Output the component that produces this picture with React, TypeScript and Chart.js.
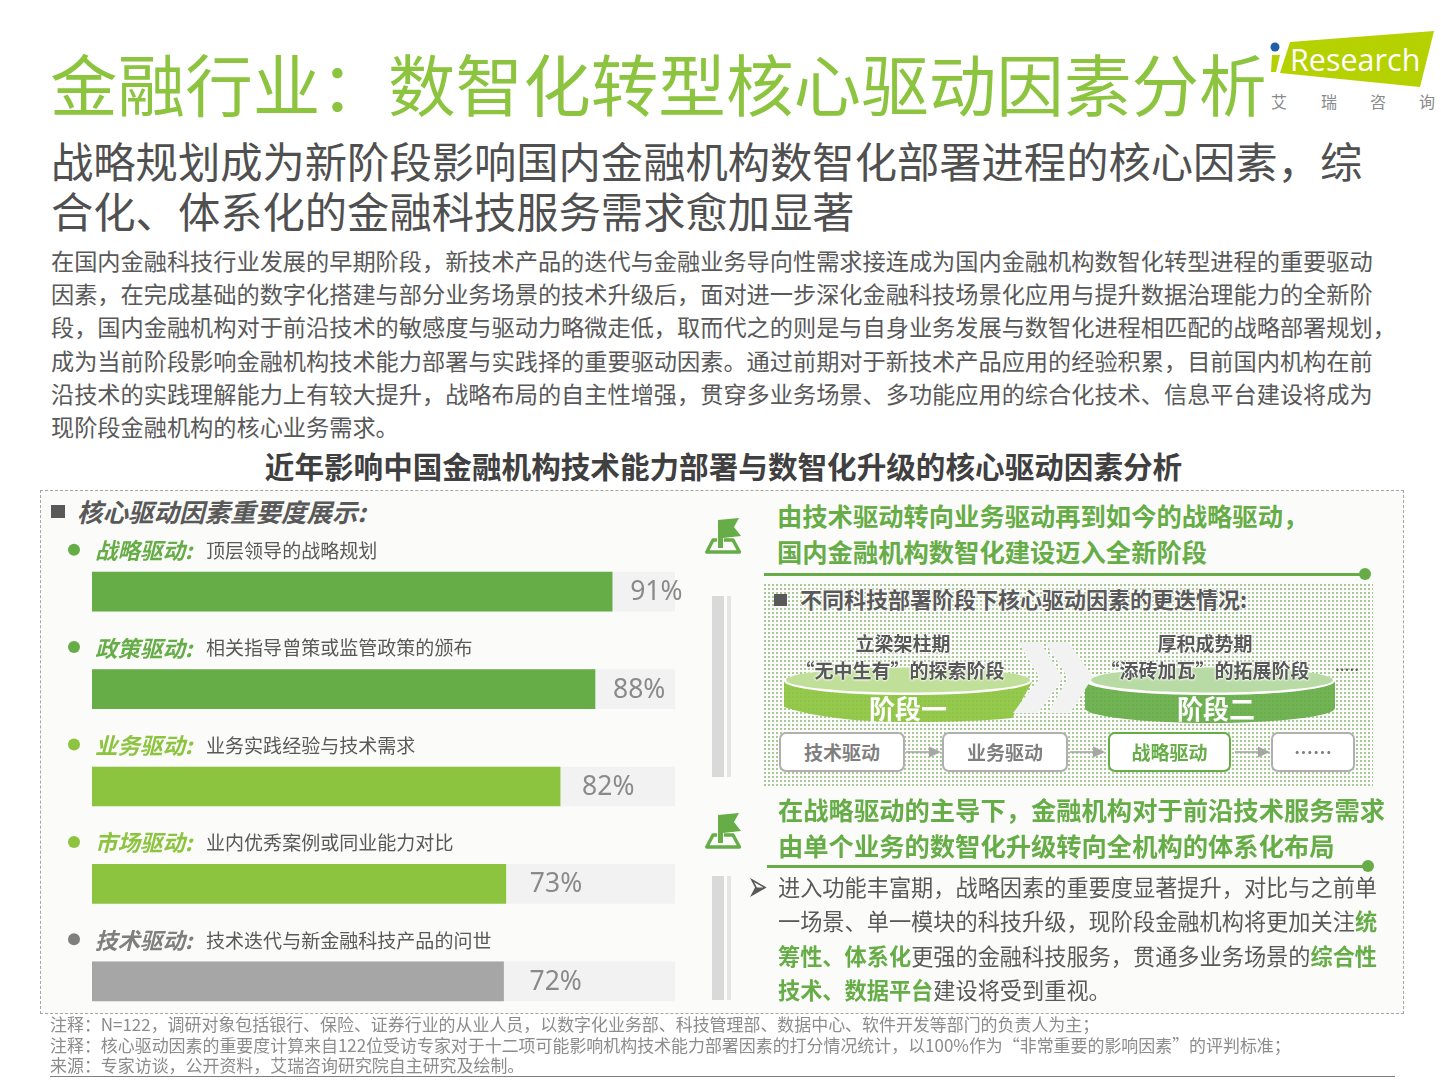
import { useEffect, useRef } from "react";
import type { ReactNode, CSSProperties } from "react";
import { Chart, registerables } from "chart.js";

Chart.register(...registerables);

const FONT = '"Noto Sans CJK SC", "Noto Sans", sans-serif';

// chart data
const categories = ["战略驱动", "政策驱动", "业务驱动", "市场驱动", "技术驱动"];
const descriptions = [
  "顶层领导的战略规划",
  "相关指导曾策或监管政策的颁布",
  "业务实践经验与技术需求",
  "业内优秀案例或同业能力对比",
  "技术迭代与新金融科技产品的问世",
];
const valueLabels = ["91%", "88%", "82%", "73%", "72%"];
// bar lengths as drawn in the picture (the 73% bar is a bit short of its label)
const barLengths = [91, 88, 81.9, 72.4, 72];
const trackValues = [102, 102, 102, 102, 102];
const barColors = ["#66ad47", "#66ad47", "#8cc43f", "#8cc43f", "#a6a6a6"];
const labelColors = ["#66ad47", "#66ad47", "#8cc43f", "#8cc43f", "#7f7f7f"];

const bodyLines = [
  "在国内金融科技行业发展的早期阶段，新技术产品的迭代与金融业务导向性需求接连成为国内金融机构数智化转型进程的重要驱动",
  "因素，在完成基础的数字化搭建与部分业务场景的技术升级后，面对进一步深化金融科技场景化应用与提升数据治理能力的全新阶",
  "段，国内金融机构对于前沿技术的敏感度与驱动力略微走低，取而代之的则是与自身业务发展与数智化进程相匹配的战略部署规划，",
  "成为当前阶段影响金融机构技术能力部署与实践择的重要驱动因素。通过前期对于新技术产品应用的经验积累，目前国内机构在前",
  "沿技术的实践理解能力上有较大提升，战略布局的自主性增强，贯穿多业务场景、多功能应用的综合化技术、信息平台建设将成为",
  "现阶段金融机构的核心业务需求。",
];
const bodyY = [260, 293, 326, 360, 393, 426];

const notes = [
  "注释：N=122，调研对象包括银行、保险、证券行业的从业人员，以数字化业务部、科技管理部、数据中心、软件开发等部门的负责人为主；",
  "注释：核心驱动因素的重要度计算来自122位受访专家对于十二项可能影响机构技术能力部署因素的打分情况统计，以100%作为“非常重要的影响因素”的评判标准；",
  "来源：专家访谈，公开资料，艾瑞咨询研究院自主研究及绘制。",
];
const notesY = [1024, 1045, 1065];

const labelGaps = [18, 18, 22, 24, 26];

// draws the text around each bar through the chart's own scales
const barLabels = {
  id: "barLabels",
  afterDatasetsDraw(chart: Chart) {
    const { ctx, scales } = chart;
    ctx.save();
    ctx.textBaseline = "middle";
    categories.forEach((name, i) => {
      const cy = scales.y.getPixelForValue(i);
      const left = scales.x.left;
      const ly = cy - 41;
      ctx.fillStyle = labelColors[i];
      ctx.beginPath();
      ctx.arc(left - 18, ly - 1, 6, 0, Math.PI * 2);
      ctx.fill();
      ctx.font = `italic bold 22.5px ${FONT}`;
      ctx.textAlign = "left";
      ctx.fillText(name + ":", left + 3, ly);
      ctx.fillStyle = "#595959";
      ctx.font = `19.05px ${FONT}`;
      ctx.fillText(descriptions[i], left + 114, ly);
      ctx.fillStyle = "#8a8a8a";
      ctx.font = '26.5px "Noto Sans", sans-serif';
      ctx.fillText(valueLabels[i], scales.x.getPixelForValue(barLengths[i]) + labelGaps[i], cy + 1);
    });
    ctx.restore();
  },
};

function ImportanceChart() {
  const canvasRef = useRef<HTMLCanvasElement>(null);

  useEffect(() => {
    if (!canvasRef.current) return;
    const chart = new Chart(canvasRef.current, {
      type: "bar",
      data: {
        labels: categories,
        datasets: [
          { data: barLengths, backgroundColor: barColors, order: 1, grouped: false, barThickness: 39 },
          { data: trackValues, backgroundColor: "#f2f2f2", order: 2, grouped: false, barThickness: 39 },
        ],
      },
      options: {
        indexAxis: "y",
        responsive: false,
        animation: false,
        events: [],
        layout: { padding: { left: 52, right: 25, top: 48, bottom: 5 } },
        plugins: { legend: { display: false }, tooltip: { enabled: false } },
        scales: {
          x: { display: false, min: 0, max: 102 },
          y: { display: false },
        },
      },
      plugins: [barLabels],
    });
    return () => chart.destroy();
  }, []);

  return (
    <div style={{ position: "absolute", left: 40, top: 495, width: 660, height: 540 }}>
      <canvas ref={canvasRef} width={660} height={540} />
    </div>
  );
}

interface TextProps {
  x: number;
  y: number;
  size: number;
  color?: string;
  weight?: number;
  italic?: boolean;
  center?: boolean;
  glow?: boolean;
  font?: string;
  children: ReactNode;
}

function T({ x, y, size, color = "#595959", weight = 400, italic, center, glow, font, children }: TextProps) {
  const style: CSSProperties = {
    position: "absolute",
    left: x,
    top: y - size,
    lineHeight: `${size * 2}px`,
    fontSize: size,
    fontWeight: weight,
    fontStyle: italic ? "italic" : "normal",
    fontFamily: font,
    color,
    whiteSpace: "nowrap",
    transform: center ? "translateX(-50%)" : undefined,
    textShadow: glow ? "0 0 3px #fff, 0 0 3px #fff, 0 0 2px #fff" : undefined,
  };
  return <span style={style}>{children}</span>;
}

const Box = ({ style }: { style: CSSProperties }) => <div style={{ position: "absolute", ...style }} />;

function Flag({ x, y }: { x: number; y: number }) {
  return (
    <svg style={{ position: "absolute", left: x, top: y }} width="38" height="38" viewBox="0 0 38 38">
      <path d="M13 3 L34 1 L29 10 L36 19 L18 21 L18 31 L13 31 Z" fill="#66ad47" />
      <path
        d="M12 23 L8 23 L1.8 35 L34.5 35 L28 23 L19 23"
        fill="none"
        stroke="#66ad47"
        strokeWidth="3.4"
        strokeLinejoin="round"
      />
    </svg>
  );
}

function Green({ children }: { children: ReactNode }) {
  return <span style={{ color: "#66ad47", fontWeight: 700 }}>{children}</span>;
}

function Stages() {
  const arrow = (x: number) => (
    <g key={x}>
      <line x1={x} x2={x + 24} y1={752} y2={752} stroke="#a6a6a6" strokeWidth="1.6" />
      <path d={`M${x + 23} 746.5 L${x + 35} 752 L${x + 23} 757.5 Z`} fill="#a6a6a6" />
    </g>
  );
  return (
    <svg style={{ position: "absolute", left: 0, top: 0 }} width="1441" height="1080">
      <path
        d="M784 681 L784 707 Q830 722 908 722 Q975 722 1012 718 L1032 682 Z"
        fill="#8cc43f"
        fillOpacity="0.92"
      />
      <ellipse cx="908" cy="681" rx="124" ry="14" fill="#fff" />
      <ellipse cx="908" cy="680" rx="122" ry="12.5" fill="#b9dc8e" fillOpacity="0.9" />
      <path d="M1085 681 L1085 708 A125 15 0 0 0 1335 708 L1335 681 Z" fill="#66ad47" fillOpacity="0.92" />
      <ellipse cx="1210" cy="681" rx="125" ry="14" fill="#fff" />
      <ellipse cx="1212" cy="680" rx="121" ry="12.5" fill="#b0d69a" fillOpacity="0.9" />
      <path d="M1018 642 L1040 642 L1063 678 L1038 713 L1013 713 L1040 678 Z" fill="#f2f2f2" />
      <path d="M1045 642 L1068 642 L1093 677 L1070 713 L1048 713 L1068 678 Z" fill="#f2f2f2" />
      {[906, 1070, 1235].map(arrow)}
    </svg>
  );
}

function StageBox({ x, w, label, active }: { x: number; w: number; label: string; active?: boolean }) {
  return (
    <div
      style={{
        position: "absolute",
        left: x,
        top: 732,
        width: w,
        height: 36,
        background: "#fff",
        border: `2px solid ${active ? "#66ad47" : "#b0b0b0"}`,
        borderRadius: 7,
        textAlign: "center",
        lineHeight: "35px",
        fontSize: 19,
        fontWeight: 700,
        color: active ? "#66ad47" : "#7f7f7f",
      }}
    >
      {label}
    </div>
  );
}

export default function App() {
  return (
    <div
      style={{
        position: "absolute",
        left: 0,
        top: 0,
        width: 1441,
        height: 1080,
        overflow: "hidden",
        background: "#fff",
        fontFamily: FONT,
      }}
    >
      <T x={50} y={82} size={67.6} color="#8cc43f">
        金融行业：数智化转型核心驱动因素分析
      </T>

      {/* logo */}
      <svg style={{ position: "absolute", left: 0, top: 0 }} width="1441" height="120">
        <path d="M1290 42 L1434 31 L1420 87 L1280 73 Z" fill="#b5d100" />
        <circle cx="1275" cy="47" r="4.5" fill="#1f5fa8" />
        <path d="M1272 55 L1280 55 L1276 72 L1271 72 Z" fill="#b5d100" />
        <text x="1290" y="71" fontSize="30.5" fill="#fff" fontFamily='"Open Sans", sans-serif'>
          Research
        </text>
      </svg>
      {["艾", "瑞", "咨", "询"].map((c, i) => (
        <T key={c} x={[1279, 1329, 1378, 1427][i]} y={101} size={16} color="#8a8a8a" center>
          {c}
        </T>
      ))}

      <T x={51} y={160} size={42.3} color="#505050">
        战略规划成为新阶段影响国内金融机构数智化部署进程的核心因素，综
      </T>
      <T x={51} y={210} size={42.3} color="#505050">
        合化、体系化的金融科技服务需求愈加显著
      </T>

      {bodyLines.map((line, i) => (
        <T key={i} x={51} y={bodyY[i]} size={23.2}>
          {line}
        </T>
      ))}

      <T x={723.5} y={466} size={29.6} color="#404040" weight={700} center>
        近年影响中国金融机构技术能力部署与数智化升级的核心驱动因素分析
      </T>

      {/* panel */}
      <Box
        style={{
          left: 40,
          top: 490,
          width: 1362,
          height: 522,
          background: "#fbfbf9",
          border: "1px dashed #a6a6a6",
        }}
      />
      <Box style={{ left: 51, top: 505, width: 14, height: 13, background: "#595959" }} />
      <T x={77} y={510} size={25.5} weight={700} italic>
        核心驱动因素重要度展示:
      </T>

      <ImportanceChart />

      {/* right side */}
      <Box style={{ left: 712, top: 596, width: 12, height: 181, background: "#d9d9d9" }} />
      <Box style={{ left: 727, top: 596, width: 4, height: 181, background: "#e4e4e4" }} />
      <Box style={{ left: 712, top: 876, width: 12, height: 124, background: "#d9d9d9" }} />
      <Box style={{ left: 727, top: 876, width: 4, height: 124, background: "#e4e4e4" }} />

      <Flag x={705} y={517} />
      <Flag x={705} y={812} />

      <T x={777} y={515} size={25.3} color="#66ad47" weight={700}>
        由技术驱动转向业务驱动再到如今的战略驱动，
      </T>
      <T x={777} y={551} size={25.3} color="#66ad47" weight={700}>
        国内金融机构数智化建设迈入全新阶段
      </T>
      <Box style={{ left: 764, top: 573, width: 600, height: 3, background: "#66ad47" }} />
      <Box style={{ left: 1359, top: 568, width: 12, height: 12, borderRadius: 6, background: "#66ad47" }} />

      <Box
        style={{
          left: 763,
          top: 583,
          width: 610,
          height: 204,
          backgroundImage: "radial-gradient(#a9c799 0.9px, transparent 1.2px)",
          backgroundSize: "4px 4px",
        }}
      />
      <Box style={{ left: 774, top: 594, width: 13, height: 12, background: "#595959" }} />
      <T x={800} y={598} size={22} weight={700} glow>
        不同科技部署阶段下核心驱动因素的更迭情况:
      </T>

      <Stages />

      <T x={903} y={643} size={19} weight={700} glow center>
        立梁架柱期
      </T>
      <T x={900} y={670} size={19} weight={700} glow center>
        “无中生有”的探索阶段
      </T>
      <T x={1205} y={643} size={19} weight={700} glow center>
        厚积成势期
      </T>
      <T x={1205} y={670} size={19} weight={700} glow center>
        “添砖加瓦”的拓展阶段
      </T>
      <T x={1347} y={664} size={18} center font='"Noto Sans", sans-serif'>
        .....
      </T>
      <T x={908} y={708} size={26} color="#fff" weight={700} center>
        阶段一
      </T>
      <T x={1216} y={708} size={26} color="#fff" weight={700} center>
        阶段二
      </T>

      <StageBox x={779} w={122} label="技术驱动" />
      <StageBox x={942} w={122} label="业务驱动" />
      <StageBox x={1108} w={119} label="战略驱动" active />
      <StageBox x={1271} w={80} label="……" />

      <T x={778} y={809} size={25.3} color="#66ad47" weight={700}>
        在战略驱动的主导下，金融机构对于前沿技术服务需求
      </T>
      <T x={778} y={845} size={25.3} color="#66ad47" weight={700}>
        由单个业务的数智化升级转向全机构的体系化布局
      </T>
      <Box style={{ left: 767, top: 865, width: 600, height: 3, background: "#66ad47" }} />
      <Box style={{ left: 1362, top: 860, width: 12, height: 12, borderRadius: 6, background: "#66ad47" }} />

      <svg style={{ position: "absolute", left: 750, top: 878 }} width="18" height="20">
        <path d="M2 2 L15 9.5 L2 17 L6 9.5 Z" fill="#fff" stroke="#595959" strokeWidth="1.6" />
        <path d="M2 17 L15 9.5 L6 9.5 Z" fill="#595959" />
      </svg>
      <T x={778} y={886} size={22.2}>
        进入功能丰富期，战略因素的重要度显著提升，对比与之前单
      </T>
      <T x={778} y={920} size={22.2}>
        一场景、单一模块的科技升级，现阶段金融机构将更加关注<Green>统</Green>
      </T>
      <T x={778} y={955} size={22.2}>
        <Green>筹性、体系化</Green>更强的金融科技服务，贯通多业务场景的<Green>综合性</Green>
      </T>
      <T x={778} y={989} size={22.2}>
        <Green>技术、数据平台</Green>建设将受到重视。
      </T>

      {notes.map((line, i) => (
        <T key={i} x={50} y={notesY[i]} size={16.95} color="#8c8c8c">
          {line}
        </T>
      ))}
      <Box style={{ left: 50, top: 1076, width: 1345, height: 1, background: "#7f7f7f" }} />
    </div>
  );
}
